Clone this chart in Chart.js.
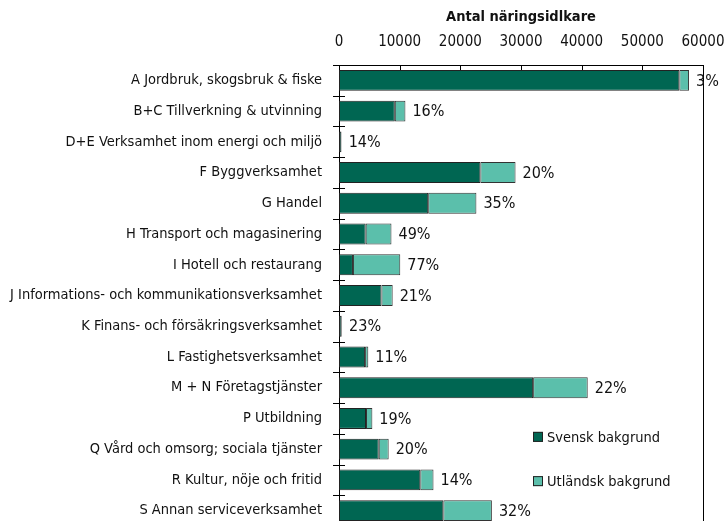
<!DOCTYPE html>
<html>
<head>
<meta charset="utf-8">
<script src="https://cdn.jsdelivr.net/npm/chart.js@4.4.1/dist/chart.umd.min.js"></script>
<style>
html,body{margin:0;padding:0;background:#fff;overflow:hidden;}
canvas{display:block;}
</style>
</head>
<body>
<canvas id="c" width="725" height="527" style="width:725px;height:527px"></canvas>
<script>
const categories = [
  "A Jordbruk, skogsbruk & fiske",
  "B+C Tillverkning & utvinning",
  "D+E Verksamhet inom energi och miljö",
  "F Byggverksamhet",
  "G Handel",
  "H Transport och magasinering",
  "I Hotell och restaurang",
  "J Informations- och kommunikationsverksamhet",
  "K Finans- och försäkringsverksamhet",
  "L Fastighetsverksamhet",
  "M + N Företagstjänster",
  "P Utbildning",
  "Q Vård och omsorg; sociala tjänster",
  "R Kultur, nöje och fritid",
  "S Annan serviceverksamhet"
];
const svensk    = [56100, 9200, 380, 23300, 14700, 4400, 2300, 7000, 390, 4300, 32000, 4450, 6550, 13400, 17200];
const utlandsk  = [1600, 1750, 60, 5800, 7950, 4250, 7800, 1850, 115, 530, 9000, 1050, 1640, 2180, 8000];
const pctLabels = ["3%","16%","14%","20%","35%","49%","77%","21%","23%","11%","22%","19%","20%","14%","32%"];
const seriesNames = ["Svensk bakgrund", "Utländsk bakgrund"];
const xTicks = [0, 10000, 20000, 30000, 40000, 50000, 60000];
const axisTitle = "Antal näringsidlkare";

const FONT = "'DejaVu Sans Condensed', 'Liberation Sans Narrow', sans-serif";
const DARK = "#006652";
const LIGHT = "#5bbfab";

const framePlugin = {
  id: 'frame',
  afterDraw(chart) {
    const ctx = chart.ctx, a = chart.chartArea;
    const xs = chart.scales.x, ys = chart.scales.y;
    ctx.save();
    ctx.strokeStyle = '#000';
    ctx.lineWidth = 1;
    // right border
    ctx.beginPath();
    ctx.moveTo(Math.round(a.right) + 0.5, a.top);
    ctx.lineTo(Math.round(a.right) + 0.5, a.bottom);
    ctx.stroke();
    // x ticks inward from top
    xTicks.forEach(v => {
      const px = Math.round(xs.getPixelForValue(v)) + 0.5;
      ctx.beginPath();
      ctx.moveTo(px, a.top);
      ctx.lineTo(px, a.top + 5);
      ctx.stroke();
    });
    // y ticks crossing the axis at category boundaries
    const n = categories.length;
    for (let i = 0; i <= n; i++) {
      const py = Math.round(ys.getPixelForValue(i - 0.5)) + 0.5;
      ctx.beginPath();
      ctx.moveTo(a.left - 6, py);
      ctx.lineTo(a.left + 6, py);
      ctx.stroke();
    }
    // percent labels
    const meta = chart.getDatasetMeta(1);
    ctx.fillStyle = '#111';
    ctx.font = "16px " + FONT;
    ctx.textAlign = 'left';
    ctx.textBaseline = 'middle';
    meta.data.forEach((el, i) => {
      ctx.fillText(pctLabels[i], el.x + 7, el.y + 1);
    });
    // legend inside plot
    const lx = a.left + 194, ly1 = ys.getPixelForValue(11.6), ly2 = ys.getPixelForValue(13.04);
    [[ly1, DARK, seriesNames[0]], [ly2, LIGHT, seriesNames[1]]].forEach(([ly, col, txt]) => {
      ctx.fillStyle = col;
      ctx.fillRect(lx, ly - 5, 10, 10);
      ctx.strokeStyle = '#222';
      ctx.strokeRect(lx + 0.5, ly - 4.5, 9, 9);
      ctx.fillStyle = '#111';
      ctx.font = "14.5px " + FONT;
      ctx.fillText(txt, lx + 14, ly + 1);
    });
    ctx.restore();
  }
};

new Chart(document.getElementById('c'), {
  type: 'bar',
  data: {
    labels: categories,
    datasets: [
      { label: seriesNames[0], data: svensk, backgroundColor: DARK, borderColor: '#222', borderWidth: 1, borderSkipped: false },
      { label: seriesNames[1], data: utlandsk, backgroundColor: LIGHT, borderColor: '#333', borderWidth: 1, borderSkipped: false }
    ]
  },
  options: {
    indexAxis: 'y',
    responsive: false,
    maintainAspectRatio: false,
    animation: false,
    categoryPercentage: 1.0,
    barPercentage: 0.68,
    layout: { padding: { top: 0, right: 22, bottom: 1, left: 0 } },
    plugins: {
      legend: { display: false },
      tooltip: { enabled: false }
    },
    scales: {
      x: {
        position: 'top',
        stacked: true,
        min: 0,
        max: 60000,
        afterBuildTicks(scale) { scale.ticks = xTicks.map(v => ({ value: v })); },
        afterFit(scale) { scale.height = 65; scale.paddingLeft = 0; scale.paddingRight = 0; },
        grid: { display: false, drawTicks: false },
        border: { display: true, color: '#000', width: 1 },
        ticks: { color: '#111', font: { family: FONT, size: 15 }, padding: 14, maxRotation: 0, autoSkip: false,
                 callback: (v) => String(v) },
        title: { display: true, text: axisTitle, color: '#111', font: { family: FONT, size: 14.5, weight: 'bold' }, padding: { top: 9, bottom: 0 } }
      },
      y: {
        stacked: true,
        afterFit(scale) { scale.width = 339; scale.paddingTop = 0; scale.paddingBottom = 0; },
        grid: { display: false, drawTicks: false },
        border: { display: true, color: '#000', width: 1 },
        ticks: { color: '#111', font: { family: FONT, size: 14.5 }, padding: 17, autoSkip: false }
      }
    }
  },
  plugins: [framePlugin]
});
</script>
</body>
</html>
